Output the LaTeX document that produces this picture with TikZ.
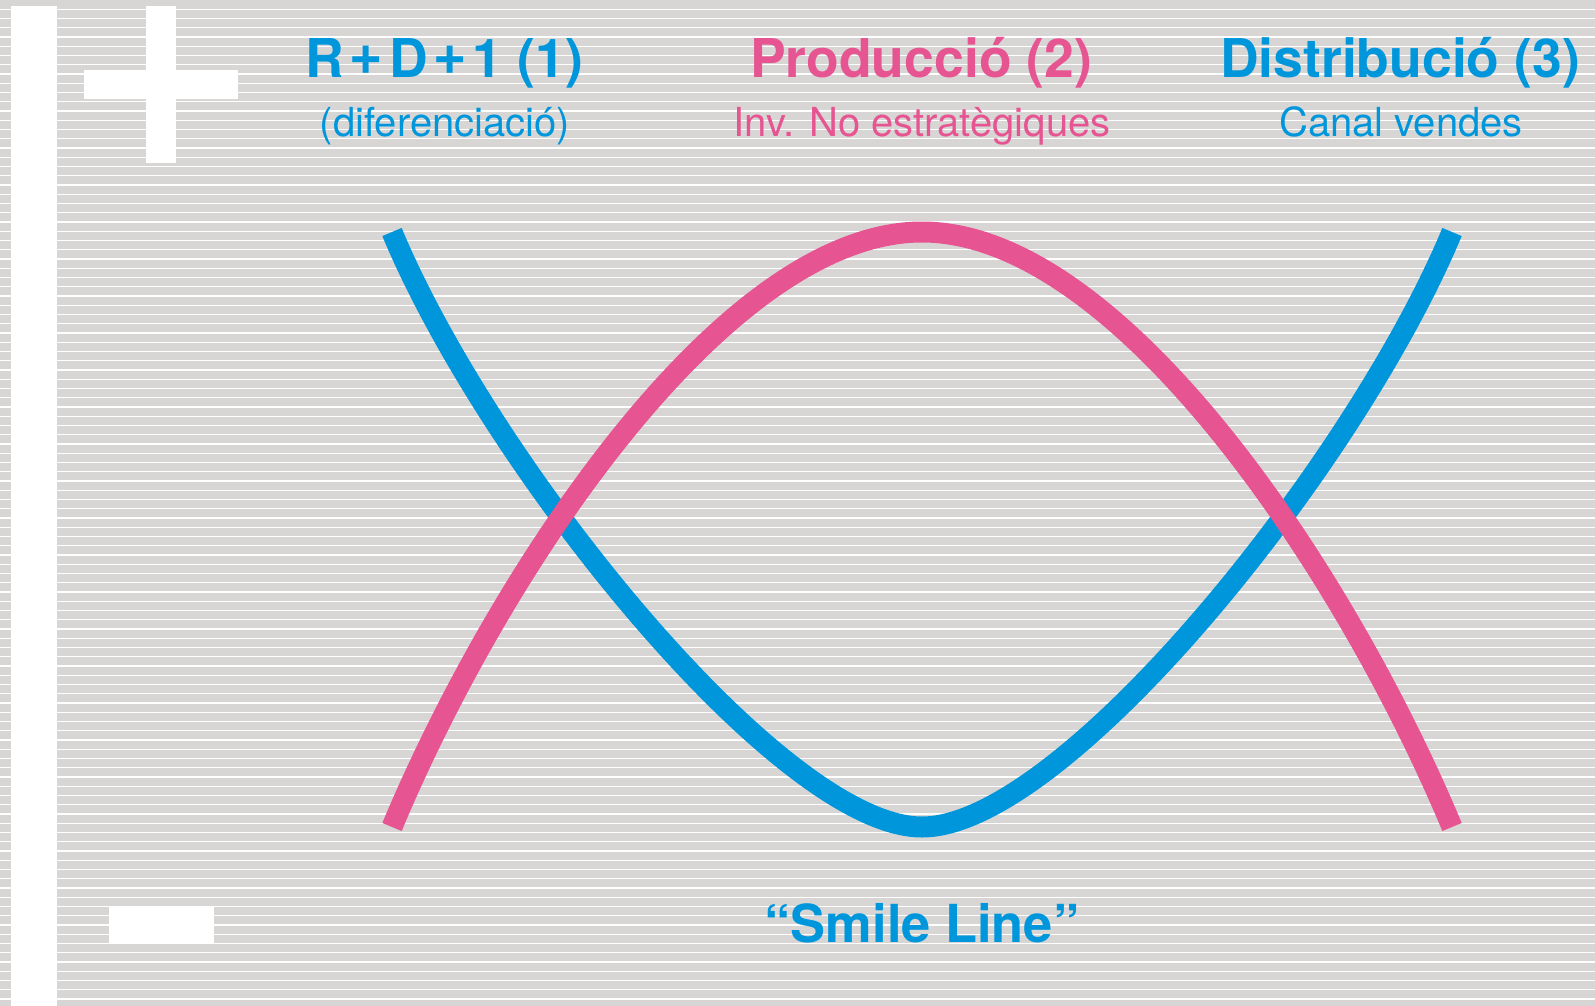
\documentclass[tikz,border=0pt]{standalone}
\usepackage{fontspec}
\setmainfont{TeX Gyre Heros}
\newfontfamily\plusfont{Liberation Sans}
\definecolor{smblue}{RGB}{0,150,220}
\definecolor{smpink}{RGB}{230,85,145}
\definecolor{bggray}{RGB}{216,214,212}
\newcommand{\bigplus}{\hspace{7pt}{\plusfont\bfseries +}\hspace{7pt}}
\tikzset{
  titletext/.style={anchor=base, inner sep=0pt, font=\fontsize{53.5}{60}\selectfont\bfseries},
  subtext/.style={anchor=base, inner sep=0pt, font=\fontsize{40}{48}\selectfont},
  curve/.style={line width=21pt, line cap=butt},
}
\begin{document}
\begin{tikzpicture}[x=1pt,y=-1pt]
\useasboundingbox (0,0) rectangle (1595,1006);
\fill[bggray] (0,0) rectangle (1595,1006);
\foreach \k in {1,...,108} \fill[white] (0,\k*9.25-0.6) rectangle (1595,\k*9.25+0.6);
% axis bar and signs
\fill[white] (11,6) rectangle (57,1006);
\fill[white] (146,6) rectangle (176,163);
\fill[white] (84,70) rectangle (238,99);
\fill[white] (109,907) rectangle (214,943);
% curves
\coordinate (bl) at (392,232);
\coordinate (bm) at (922,827);
\coordinate (br) at (1452,232);
\coordinate (pl) at (392,827);
\coordinate (pm) at (922,232);
\coordinate (pr) at (1452,827);
\draw[curve, smblue] (bl) .. controls (488,463) and (780,827) .. (bm)
                          .. controls (1064,827) and (1356,463) .. (br);
\draw[curve, smpink] (pl) .. controls (496,578) and (722,232) .. (pm)
                          .. controls (1122,232) and (1348,578) .. (pr);
% texts
\node[titletext, text=smblue] (t1) at (444,78) {R\bigplus D\bigplus 1 (1)};
\node[subtext, text=smblue] (s1) at (445,137) {(diferenciació)};
\node[titletext, text=smpink] (t2) at (921,78) {Producció (2)};
\node[subtext, text=smpink] (s2) at (922,137) {Inv. No estratègiques};
\node[titletext, text=smblue] (t3) at (1400,78) {Distribució (3)};
\node[subtext, text=smblue] (s3) at (1401,137) {Canal vendes};
\node[titletext, text=smblue, font=\fontsize{52.4}{60}\selectfont\bfseries] (sl) at (922,942) {“Smile Line”};
\end{tikzpicture}
\end{document}
